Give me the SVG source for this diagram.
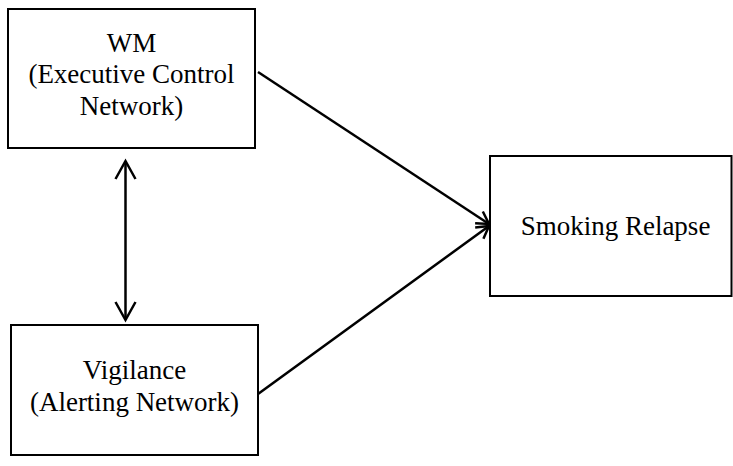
<svg xmlns="http://www.w3.org/2000/svg" width="733" height="466" viewBox="0 0 733 466">
<style>
.box{fill:#fff;stroke:#000;stroke-width:2}
.t{font-family:"Liberation Serif","Times New Roman",serif;font-size:27px;fill:#000;text-anchor:middle}
.c{fill:none;stroke:#000;stroke-width:2.5}
</style>
<defs>
<marker id="ah" markerUnits="userSpaceOnUse" markerWidth="20" markerHeight="20" viewBox="-14 -10 16 20" refX="0" refY="0" orient="auto">
<path d="M-12,-7 L0,0 L-12,7" fill="none" stroke="#000" stroke-width="2.5"/>
</marker>
<marker id="ahv" markerUnits="userSpaceOnUse" markerWidth="24" markerHeight="24" viewBox="-20 -12 22 24" refX="0" refY="0" orient="auto-start-reverse">
<path d="M-18,-10 L0,0 L-18,10" fill="none" stroke="#000" stroke-width="2.5"/>
</marker>
</defs>
<g id="connectors">
<line class="c" x1="258" y1="72" x2="489" y2="224" marker-end="url(#ah)"/>
<line class="c" x1="258" y1="394" x2="489" y2="226" marker-end="url(#ah)"/>
<line class="c" x1="125.5" y1="161" x2="125.5" y2="320" marker-start="url(#ahv)" marker-end="url(#ahv)"/>
</g>
<g id="wm">
<rect class="box" x="8" y="9" width="247" height="139"/>
<text class="t" x="131.5" y="51.5">WM</text>
<text class="t" x="131.5" y="83">(Executive Control</text>
<text class="t" x="131.5" y="115">Network)</text>
</g>
<g id="vigilance">
<rect class="box" x="11" y="325" width="247" height="130"/>
<text class="t" x="134.5" y="379">Vigilance</text>
<text class="t" x="134.5" y="411">(Alerting Network)</text>
</g>
<g id="relapse">
<rect class="box" x="490" y="156" width="241.5" height="140"/>
<text class="t" x="615.5" y="235">Smoking Relapse</text>
</g>
</svg>
